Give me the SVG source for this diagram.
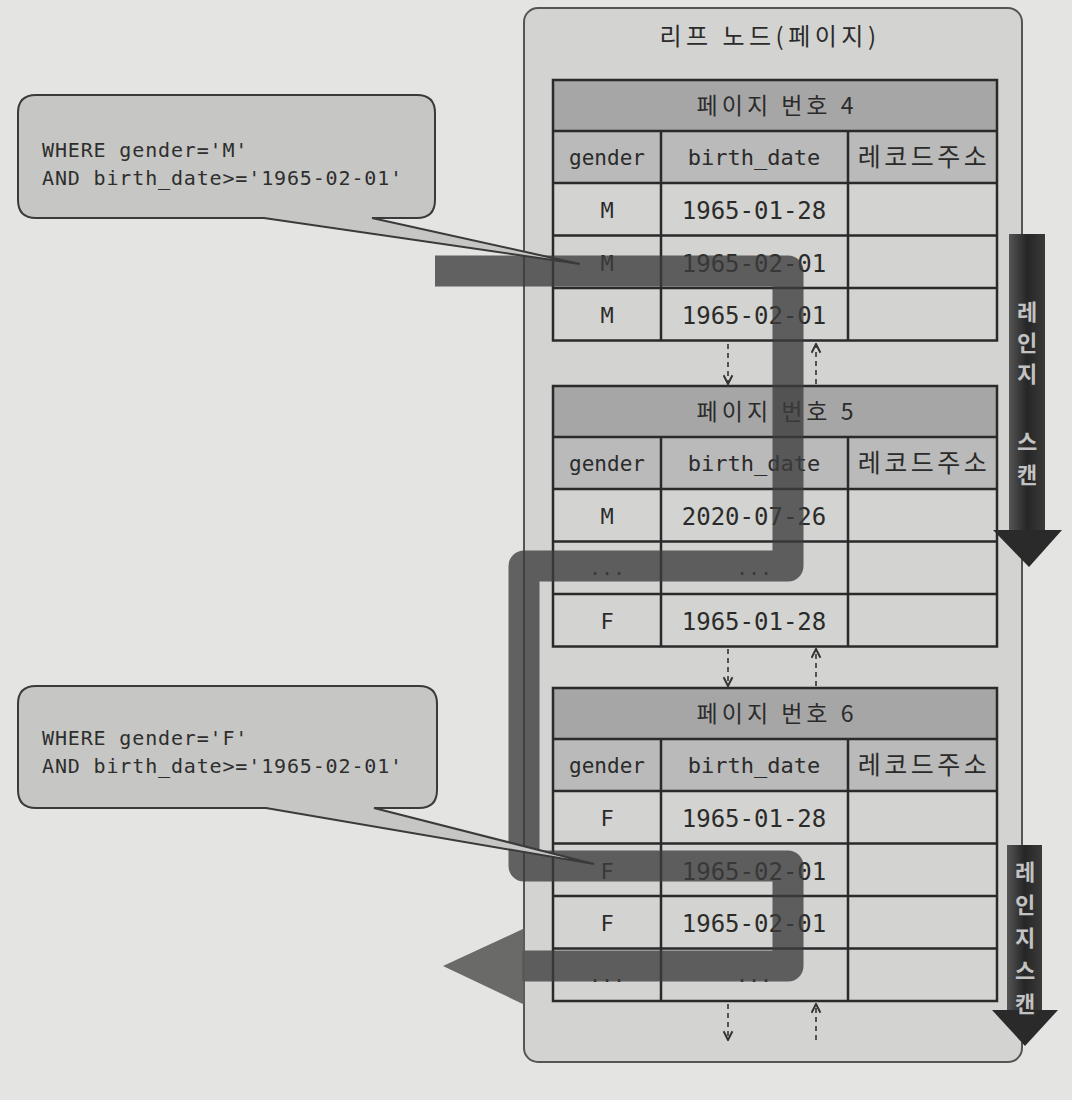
<svg xmlns="http://www.w3.org/2000/svg" width="1072" height="1100" viewBox="0 0 1072 1100">
<style>
.m{font-family:"DejaVu Sans Mono","Liberation Mono","Noto Sans CJK KR",monospace;fill:#2b2b2b}
.k{font-family:"Noto Sans CJK KR","Noto Sans",sans-serif;fill:#2b2b2b}
.ln{stroke:#2a2a2a;stroke-width:2.5;fill:none}
.hd{fill:#a6a6a6}
.ch{fill:#bababa}
.cell{fill:#d3d3d1}
.dash{stroke:#333;stroke-width:1.6;stroke-dasharray:5 4;fill:none}
.vt{font-family:"Noto Sans CJK KR","Noto Sans",sans-serif;font-weight:bold;font-size:22px;fill:#c2c2c2;text-anchor:middle}
.bub{fill:#c6c6c4;stroke:#3a3a3a;stroke-width:2}
.q{font-family:"DejaVu Sans Mono","Liberation Mono",monospace;font-size:20px;letter-spacing:0.85px;fill:#2e2e2e}
.ph{font-size:23px;letter-spacing:4px;text-anchor:middle}
.rc{font-size:25px;letter-spacing:3.5px;text-anchor:middle}
</style>
<defs>
<marker id="ah" viewBox="0 0 10 10" refX="9" refY="5" markerWidth="11" markerHeight="11" orient="auto" markerUnits="userSpaceOnUse">
<path d="M1,1 L9,5 L1,9" fill="none" stroke="#333" stroke-width="1.8"/>
</marker>
<linearGradient id="ag" x1="0" y1="0" x2="1" y2="0">
<stop offset="0" stop-color="#555"/>
<stop offset="0.5" stop-color="#262626"/>
<stop offset="1" stop-color="#3a3a3a"/>
</linearGradient>
</defs>
<rect x="0" y="0" width="1072" height="1100" fill="#e4e4e2"/>

<g id="leaf-container">
<rect x="524" y="8" width="498" height="1054" rx="14" fill="#d3d3d1" stroke="#555" stroke-width="2"/>
<text class="k" x="770" y="45" font-size="24" letter-spacing="4.5" text-anchor="middle" fill="#444">리프 노드(페이지)</text>
</g>

<g id="page4" transform="translate(553,80)">
<rect class="hd" x="0" y="0" width="444" height="51"/>
<rect class="ch" x="0" y="51" width="444" height="52"/>
<rect class="cell" x="0" y="103" width="444" height="157.5"/>
<rect class="ln" x="0" y="0" width="444" height="260.5"/>
<path class="ln" d="M0,51H444M0,103H444M0,155.5H444M0,208H444M108,51V260.5M295,51V260.5"/>
<text class="k ph" x="224" y="34">페이지 번호 4</text>
<text class="m" x="54" y="85" font-size="21" text-anchor="middle">gender</text>
<text class="m" x="201" y="85" font-size="22" text-anchor="middle">birth_date</text>
<text class="k rc" x="371" y="86">레코드주소</text>
<text class="m" x="54" y="138" font-size="22" text-anchor="middle">M</text>
<text class="m" x="201" y="139" font-size="24" text-anchor="middle">1965-01-28</text>
<text class="m" x="54" y="191" font-size="22" text-anchor="middle">M</text>
<text class="m" x="201" y="192" font-size="24" text-anchor="middle">1965-02-01</text>
<text class="m" x="54" y="243" font-size="22" text-anchor="middle">M</text>
<text class="m" x="201" y="244" font-size="24" text-anchor="middle">1965-02-01</text>
</g>

<g id="page5" transform="translate(553,386)">
<rect class="hd" x="0" y="0" width="444" height="51"/>
<rect class="ch" x="0" y="51" width="444" height="52"/>
<rect class="cell" x="0" y="103" width="444" height="157.5"/>
<rect class="ln" x="0" y="0" width="444" height="260.5"/>
<path class="ln" d="M0,51H444M0,103H444M0,155.5H444M0,208H444M108,51V260.5M295,51V260.5"/>
<text class="k ph" x="224" y="34">페이지 번호 5</text>
<text class="m" x="54" y="85" font-size="21" text-anchor="middle">gender</text>
<text class="m" x="201" y="85" font-size="22" text-anchor="middle">birth_date</text>
<text class="k rc" x="371" y="86">레코드주소</text>
<text class="m" x="54" y="138" font-size="22" text-anchor="middle">M</text>
<text class="m" x="201" y="139" font-size="24" text-anchor="middle">2020-07-26</text>
<text class="m" x="54" y="189" font-size="20" text-anchor="middle">...</text>
<text class="m" x="201" y="189" font-size="20" text-anchor="middle">...</text>
<text class="m" x="54" y="243" font-size="22" text-anchor="middle">F</text>
<text class="m" x="201" y="244" font-size="24" text-anchor="middle">1965-01-28</text>
</g>

<g id="page6" transform="translate(553,688)">
<rect class="hd" x="0" y="0" width="444" height="51"/>
<rect class="ch" x="0" y="51" width="444" height="52"/>
<rect class="cell" x="0" y="103" width="444" height="210"/>
<rect class="ln" x="0" y="0" width="444" height="313"/>
<path class="ln" d="M0,51H444M0,103H444M0,155.5H444M0,208H444M0,260.5H444M108,51V313M295,51V313"/>
<text class="k ph" x="224" y="34">페이지 번호 6</text>
<text class="m" x="54" y="85" font-size="21" text-anchor="middle">gender</text>
<text class="m" x="201" y="85" font-size="22" text-anchor="middle">birth_date</text>
<text class="k rc" x="371" y="86">레코드주소</text>
<text class="m" x="54" y="138" font-size="22" text-anchor="middle">F</text>
<text class="m" x="201" y="139" font-size="24" text-anchor="middle">1965-01-28</text>
<text class="m" x="54" y="191" font-size="22" text-anchor="middle">F</text>
<text class="m" x="201" y="192" font-size="24" text-anchor="middle">1965-02-01</text>
<text class="m" x="54" y="243" font-size="22" text-anchor="middle">F</text>
<text class="m" x="201" y="244" font-size="24" text-anchor="middle">1965-02-01</text>
<text class="m" x="54" y="294" font-size="20" text-anchor="middle">...</text>
<text class="m" x="201" y="294" font-size="20" text-anchor="middle">...</text>
</g>

<g id="connectors">
<path class="dash" d="M728,344V384" marker-end="url(#ah)"/>
<path class="dash" d="M816,384V344" marker-end="url(#ah)"/>
<path class="dash" d="M728,649V686" marker-end="url(#ah)"/>
<path class="dash" d="M816,686V649" marker-end="url(#ah)"/>
<path class="dash" d="M728,1004V1040" marker-end="url(#ah)"/>
<path class="dash" d="M816,1040V1004" marker-end="url(#ah)"/>
</g>

<g id="scan-path">
<path d="M435,271H788V566H524V866H788V966H522" fill="none" stroke="#3c3c3c" stroke-opacity="0.78" stroke-width="31" stroke-linejoin="round"/>
<polygon points="525,928 443,966 525,1005" fill="#5c5c5c" fill-opacity="0.9"/>
</g>

<g id="range-scan-1">
<rect x="1009" y="234" width="36" height="297" fill="url(#ag)"/>
<polygon points="993,530 1062,530 1029,567" fill="#2a2a2a"/>
<text class="vt" x="1027" y="320">레</text>
<text class="vt" x="1027" y="351">인</text>
<text class="vt" x="1027" y="382">지</text>
<text class="vt" x="1027" y="450">스</text>
<text class="vt" x="1027" y="483">캔</text>
</g>

<g id="range-scan-2">
<rect x="1007" y="845" width="35" height="166" fill="url(#ag)"/>
<polygon points="992,1010 1058,1010 1025,1046" fill="#2a2a2a"/>
<text class="vt" x="1025" y="880">레</text>
<text class="vt" x="1025" y="913">인</text>
<text class="vt" x="1025" y="946">지</text>
<text class="vt" x="1025" y="979">스</text>
<text class="vt" x="1025" y="1012">캔</text>
</g>

<g id="callout-m">
<path class="bub" d="M36,95H417Q435,95 435,113V200Q435,218 417,218H372L580,264L264,218H36Q18,218 18,200V113Q18,95 36,95Z"/>
<text class="q" x="42" y="157">WHERE gender='M'</text>
<text class="q" x="42" y="185">AND birth_date&gt;='1965-02-01'</text>
</g>

<g id="callout-f">
<path class="bub" d="M36,686H419Q437,686 437,704V790Q437,808 419,808H374L594,864L266,808H36Q18,808 18,790V704Q18,686 36,686Z"/>
<text class="q" x="42" y="745">WHERE gender='F'</text>
<text class="q" x="42" y="773">AND birth_date&gt;='1965-02-01'</text>
</g>
</svg>
